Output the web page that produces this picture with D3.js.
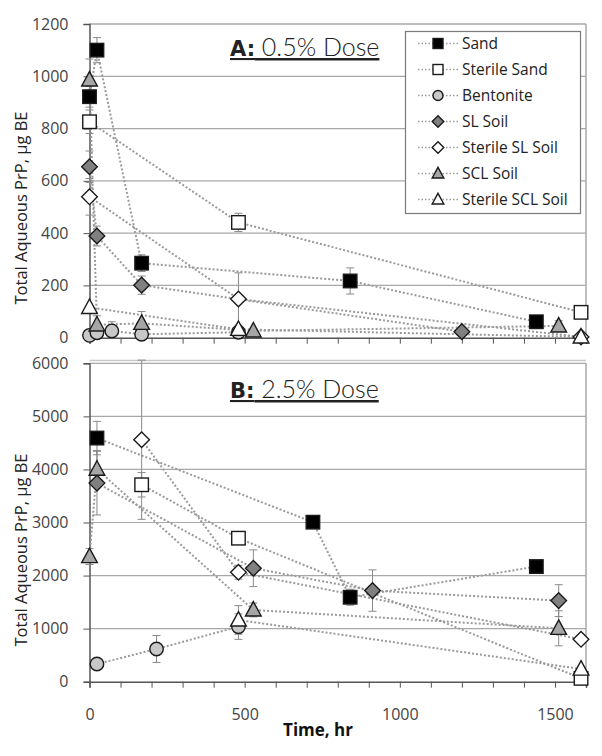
<!DOCTYPE html>
<html><head><meta charset="utf-8">
<script src="https://cdn.jsdelivr.net/npm/d3@7"></script>
<style>body{margin:0;background:#fff}svg{display:block}</style>
</head><body>
<svg id="chart" width="602" height="756"></svg>
<script>
// ---------- data ----------
const seriesNames = ["Sand","Sterile Sand","Bentonite","SL Soil","Sterile SL Soil","SCL Soil","Sterile SCL Soil"];
// Panel A: 0.5% dose
const sandA_t = [0,24,168,840,1440];      const sandA_v = [922,1100,285,217,61];    const sandA_e = [40,48,32,50,12];
const sterSandA_t = [0,480,1584];         const sterSandA_v = [826,441,97];         const sterSandA_e = [45,35,0];
const bentA_t = [0,24,72,168,480];        const bentA_v = [9,19,26,13,21];          const bentA_e = [0,0,35,0,0];
const slA_t = [0,24,168,1200];            const slA_v = [654,389,201,23];           const slA_e = [60,38,35,0];
const sterSlA_t = [0,480,1584];           const sterSlA_v = [539,148,3];            const sterSlA_e = [70,100,0];
const sclA_t = [0,24,168,528,1512];       const sclA_v = [986,49,55,26,45];         const sclA_e = [80,35,45,0,20];
const sterSclA_t = [0,480,1584];          const sterSclA_v = [116,32,3];            const sterSclA_e = [0,0,0];
// Panel B: 2.5% dose
const sandB_t = [24,720,840,1440];        const sandB_v = [4591,3006,1591,2170];    const sandB_e = [315,0,150,80];
const sterSandB_t = [168,480,1584];       const sterSandB_v = [3711,2704,63];       const sterSandB_e = [230,80,0];
const bentB_t = [24,216,480];             const bentB_v = [333,616,1038];           const bentB_e = [0,255,240];
const slB_t = [24,528,912,1512];          const slB_v = [3742,2138,1717,1528];      const slB_e = [600,346,390,300];
const sterSlB_t = [168,480,1584];         const sterSlB_v = [4560,2063,799];        const sterSlB_e = [1500,130,0];
const sclB_t = [0,24,528,1512];           const sclB_v = [2358,4006,1352,1006];     const sclB_e = [150,350,130,330];
const sterSclB_t = [480,1584];            const sterSclB_v = [1163,239];            const sterSclB_e = [270,0];

const yTicksA = [0,200,400,600,800,1000,1200];
const yTicksB = [0,1000,2000,3000,4000,5000,6000];
const xTickLabels = [0,500,1000,1500];
const titleA = ["A:", " 0.5% Dose"];
const titleB = ["B:", " 2.5% Dose"];
const yTitle = "Total Aqueous PrP, µg BE";
const xTitle = "Time, hr";

// ---------- styles ----------
const styles = {
  "Sand":            {shape:"square",   fill:"#000000"},
  "Sterile Sand":    {shape:"square",   fill:"#ffffff"},
  "Bentonite":       {shape:"circle",   fill:"#c8c8c8"},
  "SL Soil":         {shape:"diamond",  fill:"#808080"},
  "Sterile SL Soil": {shape:"diamond",  fill:"#ffffff"},
  "SCL Soil":        {shape:"triangle", fill:"#a6a6a6"},
  "Sterile SCL Soil":{shape:"triangle", fill:"#ffffff"}
};
function mk(t,v,e){return t.map((d,i)=>({t:d,v:v[i],e:e[i]}));}
const dataA = [
  ["Sand",mk(sandA_t,sandA_v,sandA_e)],["Sterile Sand",mk(sterSandA_t,sterSandA_v,sterSandA_e)],
  ["Bentonite",mk(bentA_t,bentA_v,bentA_e)],["SL Soil",mk(slA_t,slA_v,slA_e)],
  ["Sterile SL Soil",mk(sterSlA_t,sterSlA_v,sterSlA_e)],["SCL Soil",mk(sclA_t,sclA_v,sclA_e)],
  ["Sterile SCL Soil",mk(sterSclA_t,sterSclA_v,sterSclA_e)]];
const dataB = [
  ["Sand",mk(sandB_t,sandB_v,sandB_e)],["Sterile Sand",mk(sterSandB_t,sterSandB_v,sterSandB_e)],
  ["Bentonite",mk(bentB_t,bentB_v,bentB_e)],["SL Soil",mk(slB_t,slB_v,slB_e)],
  ["Sterile SL Soil",mk(sterSlB_t,sterSlB_v,sterSlB_e)],["SCL Soil",mk(sclB_t,sclB_v,sclB_e)],
  ["Sterile SCL Soil",mk(sterSclB_t,sterSclB_v,sterSclB_e)]];

const svg = d3.select("#chart");
const X0 = 89.5, X1 = 586;
const x = d3.scaleLinear().domain([0,1600]).range([X0,X1]);
const FONT = "'Open Sans', sans-serif";

function drawMarker(g, shape, fill, cx, cy, s){
  let sel;
  if(shape==="square") sel = g.append("rect").attr("x",cx-s/2).attr("y",cy-s/2).attr("width",s).attr("height",s);
  else if(shape==="circle") sel = g.append("circle").attr("cx",cx).attr("cy",cy).attr("r",s/2);
  else if(shape==="diamond") sel = g.append("path").attr("d",`M${cx},${cy-s*0.58}L${cx+s*0.58},${cy}L${cx},${cy+s*0.58}L${cx-s*0.58},${cy}Z`);
  else sel = g.append("path").attr("d",`M${cx},${cy-s*0.62}L${cx+s*0.58},${cy+s*0.45}L${cx-s*0.58},${cy+s*0.45}Z`);
  sel.attr("fill",fill).attr("stroke","#1a1a1a").attr("stroke-width",1.4);
}

function panel(data, yTop, yBot, ymax, ticks, title, titleBase, showX, yTitleCenter){
  const y = d3.scaleLinear().domain([0,ymax]).range([yBot,yTop]);
  const g = svg.append("g");
  // gridlines
  g.append("g").selectAll("line").data(ticks.filter(d=>d>0)).join("line")
    .attr("x1",X0).attr("x2",X1).attr("y1",d=>y(d)).attr("y2",d=>y(d))
    .attr("stroke","#a8a8a8").attr("stroke-width",1.2);
  // right border
  g.append("line").attr("x1",X1).attr("x2",X1).attr("y1",yTop).attr("y2",yBot).attr("stroke","#a8a8a8").attr("stroke-width",1.5);
  // y axis
  const ya = g.append("g").attr("transform",`translate(${X0},0)`)
    .call(d3.axisLeft(y).tickValues(ticks).tickSize(6).tickPadding(15).tickFormat(d3.format("d")));
  ya.select(".domain").attr("stroke","#555").attr("stroke-width",1.5);
  ya.selectAll(".tick line").attr("stroke","#555");
  ya.selectAll("text").attr("font-family",FONT).attr("font-size",16).attr("fill","#444");
  // x axis
  const xa = g.append("g").attr("transform",`translate(0,${yBot})`)
    .call(d3.axisBottom(x).tickValues(d3.range(0,1601,100)).tickSize(6).tickPadding(21)
      .tickFormat(d=> showX && xTickLabels.includes(d) ? d : ""));
  xa.select(".domain").attr("stroke","#555").attr("stroke-width",1.5);
  xa.selectAll(".tick line").attr("stroke","#555");
  xa.selectAll("text").attr("font-family",FONT).attr("font-size",16).attr("fill","#444");
  // y title
  g.append("text").attr("transform",`translate(27,${yTitleCenter}) rotate(-90)`)
    .attr("text-anchor","middle").attr("font-family",FONT).attr("font-size",16.5).attr("fill","#222")
    .text(yTitle);
  // title
  const tt = g.append("text").attr("x",230).attr("y",titleBase).attr("font-family","'DejaVu Sans', sans-serif")
    .attr("font-size",21).attr("fill","#222").attr("text-decoration","underline");
  tt.append("tspan").attr("font-weight","bold").text(title[0]);
  tt.append("tspan").attr("font-weight","300").attr("font-family","Lato, sans-serif").attr("font-size",25).text(title[1]);
  // lines
  const line = d3.line().x(d=>x(d.t)).y(d=>y(d.v));
  data.forEach(([name,pts])=>{
    g.append("path").attr("d",line(pts)).attr("fill","none").attr("stroke","#9a9a9a")
      .attr("stroke-width",2).attr("stroke-dasharray","2,2");
  });
  // error bars
  data.forEach(([name,pts])=>{
    pts.filter(p=>p.e>0).forEach(p=>{
      const cx=x(p.t), y1=y(p.v+p.e), y2=y(Math.max(0,p.v-p.e));
      const eg=g.append("g").attr("stroke","#8a8a8a").attr("stroke-width",1);
      eg.append("line").attr("x1",cx).attr("x2",cx).attr("y1",y1).attr("y2",y2);
      eg.append("line").attr("x1",cx-4).attr("x2",cx+4).attr("y1",y1).attr("y2",y1);
      eg.append("line").attr("x1",cx-4).attr("x2",cx+4).attr("y1",y2).attr("y2",y2);
    });
  });
  // markers
  data.forEach(([name,pts])=>{
    const st=styles[name];
    pts.forEach(p=>drawMarker(g,st.shape,st.fill,x(p.t),y(p.v),13.5));
  });
  return y;
}

// Panel borders
svg.append("line").attr("x1",X0).attr("x2",X1).attr("y1",360.5).attr("y2",360.5).attr("stroke","#c8c8c8").attr("stroke-width",1.5);
svg.append("line").attr("x1",X0).attr("x2",X1).attr("y1",24).attr("y2",24).attr("stroke","#a8a8a8").attr("stroke-width",1.2);

panel(dataA, 24, 337.7, 1200, yTicksA, titleA, 56, false, 208);
panel(dataB, 363.3, 681.7, 6000, yTicksB, titleB, 398, true, 550);

// x title
svg.append("text").attr("x",318).attr("y",736).attr("text-anchor","middle")
  .attr("font-family",FONT).attr("font-weight","bold").attr("font-size",17).attr("fill","#111").text(xTitle);

// legend
const lg = svg.append("g");
lg.append("rect").attr("x",405.5).attr("y",31.5).attr("width",175).attr("height",182)
  .attr("fill","#fff").attr("stroke","#7a7a7a").attr("stroke-width",1.2);
seriesNames.forEach((n,i)=>{
  const cy = 43.5 + i*26;
  lg.append("line").attr("x1",418).attr("x2",458).attr("y1",cy).attr("y2",cy)
    .attr("stroke","#9a9a9a").attr("stroke-width",1.5).attr("stroke-dasharray","1.5,2");
  drawMarker(lg, styles[n].shape, styles[n].fill, 438, cy, 10);
  lg.append("text").attr("x",462).attr("y",cy+5.5).attr("font-family",FONT).attr("font-size",15.5)
    .attr("fill","#222").text(n);
});
</script>
</body></html>
